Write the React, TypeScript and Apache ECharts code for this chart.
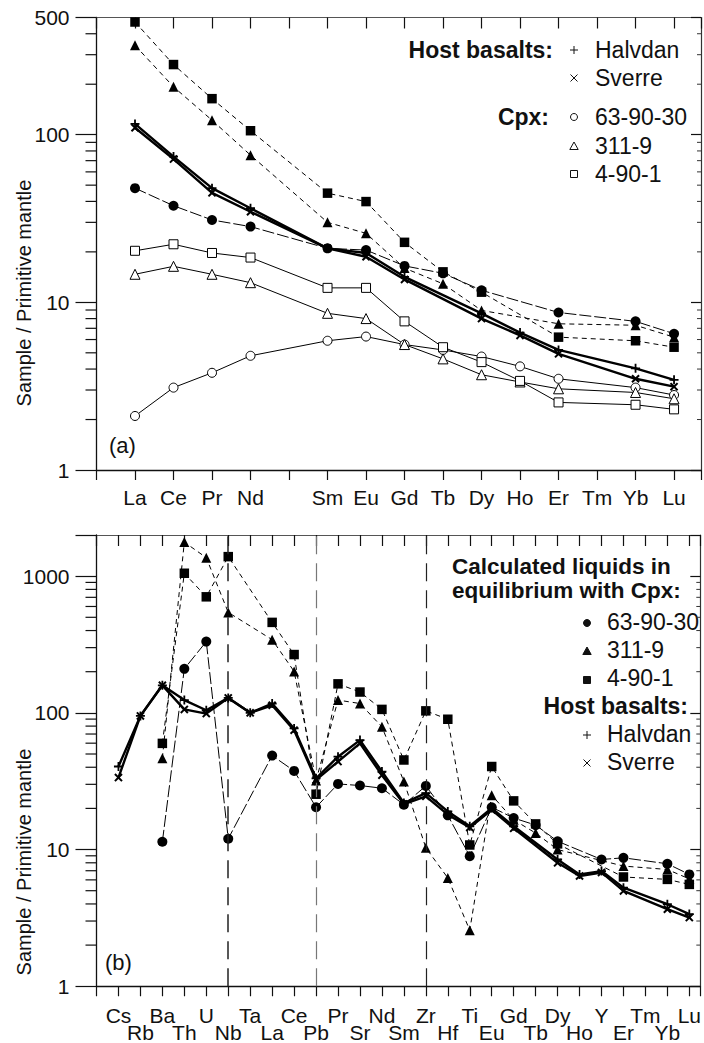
import React, { useEffect, useRef } from "react";
import * as echarts from "echarts";

// ---------- categories ----------
const TOP_LABELS = ["La", "Ce", "Pr", "Nd", "", "Sm", "Eu", "Gd", "Tb", "Dy", "Ho", "Er", "Tm", "Yb", "Lu"];
const BOTTOM_LABELS = ["Cs", "Rb", "Ba", "Th", "U", "Nb", "Ta", "La", "Ce", "Pb", "Pr", "Sr", "Nd", "Sm", "Zr", "Hf", "Ti", "Eu", "Gd", "Tb", "Dy", "Ho", "Y", "Er", "Tm", "Yb", "Lu"];
const DASHED_AT = ["Nb", "Pb", "Zr"];

// ---------- panel (a) values ----------
const halvdanA = [116, 74, 48, 36.4, null, 21, 19.7, 14.2, null, 8.6, 6.6, 5.2, null, 4.04, 3.45];
const sverreA = [110, 71.5, 45, 34.7, null, 21, 18.7, 13.7, null, 8.0, 6.35, 4.93, null, 3.5, 3.14];
const cpx63A = [2.1, 3.1, 3.8, 4.8, null, 5.9, 6.25, 5.6, 5.2, 4.75, 4.15, 3.5, null, 3.1, 2.8];
const cpx311A = [14.7, 16.4, 14.7, 13.1, null, 8.6, 8.0, 5.6, 4.6, 3.7, 3.35, 3.05, null, 2.9, 2.66];
const cpx4901A = [20.3, 22.2, 19.7, 18.5, null, 12.2, 12.2, 7.7, 5.4, 4.4, 3.4, 2.53, null, 2.45, 2.3];
const liq63A = [48, 37.7, 31, 28.3, null, 21, 20.5, 16.5, 14.9, 11.8, null, 8.7, null, 7.7, 6.5];
const liq311A = [341, 193, 122, 75.5, null, 30, 25.8, 16, 12.9, 8.95, null, 7.45, null, 7.3, 6.2];
const liq4901A = [470, 262, 164, 105.6, null, 44.8, 39.9, 22.8, 15.2, 11.5, null, 6.2, null, 5.9, 5.4];

// ---------- panel (b) values ----------
const halvdanB = [40.5, 95, 159, 124, 104.5, 128.6, 100, 117, 76.9, 33.2, 47.8, 63.2, 37.2, 21.9, 25.9, 19, 14.8, 20.1, 14.8, null, 8.46, 6.58, 6.96, 5.26, null, 3.98, 3.37];
const sverreB = [33.6, 95, 159, 106, 98.8, 128.6, 100, 113.6, 74.7, 32.3, 44, 59.8, 35, 21.5, 24.5, 18, 14.5, 19.5, 14.3, null, 8.0, 6.4, 6.8, 4.98, null, 3.66, 3.18];
const liq63B = [null, null, 11.4, 210, 332, 12.0, null, 48.7, 37.6, 20.4, 30.2, 29.4, 28.1, 21.3, 29.2, 17.8, 8.95, 20.4, 17, 15.1, 11.5, null, 8.46, 8.7, null, 7.87, 6.58];
const liq311B = [null, null, 46.5, 1774, 1365, 543, null, 343, 201, 32, 124, 117, 79, 31.5, 10.3, 6.2, 2.57, 25, 16.5, 13.2, 10, null, null, 7.57, null, 7.15, 6.1];
const liq4901B = [null, null, 59.8, 1050, 706, 1389, null, 459, 267, 25.4, 163, 142, 106, 45.2, 103.4, 89.8, 10.8, 40.5, 22.7, 15.4, 11, null, null, 6.3, null, 6.05, 5.56];

// ---------- axis ranges ----------
const TOP_X_MIN = -1;
const TOP_X_MAX = 14.7;
const BOT_X_MIN = -1;
const BOT_X_MAX = 26.5;
const TOP_Y_MAX = 500;
const BOT_Y_MAX = 2000;

const FONT = '"Liberation Sans", Arial, Helvetica, sans-serif';
const PLUS = "path://M4,0H6V4H10V6H6V10H4V6H0V4H4Z";

function pairs(vals: (number | null)[]) {
  return vals.map((v, i) => (v == null ? null : [i, v])).filter((d) => d !== null);
}

function minorValues(max: number) {
  const out: number[] = [];
  for (let d = 1; d < max; d *= 10) {
    for (let k = 2; k <= 9; k++) {
      const v = k * d;
      if (v < max) out.push(v);
    }
  }
  return out;
}

type Style = {
  symbol: string;
  size: number;
  fill: string;
  width: number;
  dash: any;
  rotate?: number;
  z: number;
};

function lineSeries(name: string, vals: (number | null)[], gi: number, st: Style, extra: any = {}) {
  return {
    type: "line",
    name,
    xAxisIndex: gi * 2,
    yAxisIndex: gi * 2,
    data: pairs(vals),
    symbol: st.symbol,
    symbolSize: st.size,
    symbolRotate: st.rotate || 0,
    showAllSymbol: true,
    z: st.z,
    lineStyle: { color: "#000", width: st.width, type: st.dash },
    itemStyle: { color: st.fill, borderColor: "#000", borderWidth: st.fill === "#fff" ? 1 : 0 },
    silent: true,
    ...extra,
  };
}

function minorSeries(gi: number, xMin: number, xMax: number, yMax: number) {
  return {
    type: "custom",
    xAxisIndex: gi * 2,
    yAxisIndex: gi * 2,
    clip: false,
    silent: true,
    z: 1,
    data: minorValues(yMax).map((v) => [xMin, v]),
    renderItem: (_p: any, api: any) => {
      const v = api.value(1);
      const pl = api.coord([xMin, v]);
      const pr = api.coord([xMax, v]);
      return {
        type: "group",
        children: [
          { type: "line", shape: { x1: pl[0] - 11, y1: pl[1], x2: pl[0], y2: pl[1] }, style: { stroke: "#111", lineWidth: 1.2 } },
          { type: "line", shape: { x1: pr[0] - 4, y1: pr[1], x2: pr[0], y2: pr[1] }, style: { stroke: "#333", lineWidth: 1 } },
        ],
      };
    },
  };
}

function xAxes(gi: number, min: number, max: number, formatter: any, margin: number, lineHeight: number) {
  return [
    {
      gridIndex: gi,
      type: "value",
      min,
      max,
      interval: 1,
      position: "bottom",
      axisLine: { show: true, onZero: false, lineStyle: { color: "#111", width: 1.3 } },
      axisTick: { show: true, inside: false, length: 10, lineStyle: { color: "#111", width: 1.2 } },
      axisLabel: { show: true, formatter, margin, fontSize: 21, lineHeight, color: "#111", fontFamily: FONT },
      splitLine: { show: false },
    },
    {
      gridIndex: gi,
      type: "value",
      min,
      max,
      interval: 1,
      position: "top",
      axisLine: { show: true, onZero: false, lineStyle: { color: "#555", width: 1.2 } },
      axisTick: { show: true, inside: true, length: 11, lineStyle: { color: "#111", width: 1.2 } },
      axisLabel: { show: false },
      splitLine: { show: false },
    },
  ];
}

function yAxes(gi: number, max: number) {
  const fmt = (v: number) => (Math.abs(v - BOT_Y_MAX) < 1e-6 ? "" : String(Math.round(v)));
  return [
    {
      gridIndex: gi,
      type: "log",
      logBase: 10,
      min: 1,
      max,
      position: "left",
      axisLine: { show: true, onZero: false, lineStyle: { color: "#111", width: 1.3 } },
      axisTick: { show: true, inside: false, length: 21, lineStyle: { color: "#111", width: 1.2 } },
      axisLabel: { show: true, formatter: fmt, margin: 27, fontSize: 21, color: "#111", fontFamily: FONT },
      splitLine: { show: false },
    },
    {
      gridIndex: gi,
      type: "log",
      logBase: 10,
      min: 1,
      max,
      position: "right",
      axisLine: { show: true, onZero: false, lineStyle: { color: "#333", width: 1.2 } },
      axisTick: { show: true, inside: true, length: 10, lineStyle: { color: "#111", width: 1.2 } },
      axisLabel: { show: false },
      splitLine: { show: false },
    },
  ];
}

function txt(text: string, x: number, y: number, size: number, align = "left", bold = false) {
  return {
    type: "text",
    x,
    y,
    silent: true,
    style: {
      text,
      fill: "#111",
      fontSize: size,
      fontWeight: bold ? "bold" : "normal",
      fontFamily: FONT,
      textAlign: align,
      textVerticalAlign: "middle",
    },
  };
}

function sym(kind: string, cx: number, cy: number) {
  const s = { stroke: "#111", lineWidth: 1, fill: "#fff" };
  const f = { fill: "#111", stroke: "#111", lineWidth: 1 };
  switch (kind) {
    case "plus":
      return { type: "group", children: [
        { type: "line", shape: { x1: cx - 4, y1: cy, x2: cx + 4, y2: cy }, style: { stroke: "#111", lineWidth: 1 } },
        { type: "line", shape: { x1: cx, y1: cy - 4, x2: cx, y2: cy + 4 }, style: { stroke: "#111", lineWidth: 1 } },
      ] };
    case "cross":
      return { type: "group", children: [
        { type: "line", shape: { x1: cx - 3.5, y1: cy - 3.5, x2: cx + 3.5, y2: cy + 3.5 }, style: { stroke: "#111", lineWidth: 1 } },
        { type: "line", shape: { x1: cx - 3.5, y1: cy + 3.5, x2: cx + 3.5, y2: cy - 3.5 }, style: { stroke: "#111", lineWidth: 1 } },
      ] };
    case "ocircle":
      return { type: "circle", shape: { cx, cy, r: 3.5 }, style: s };
    case "otri":
      return { type: "polygon", shape: { points: [[cx, cy - 4], [cx + 4.2, cy + 3.5], [cx - 4.2, cy + 3.5]] }, style: s };
    case "orect":
      return { type: "rect", shape: { x: cx - 3.5, y: cy - 3.5, width: 7, height: 7 }, style: s };
    case "fcircle":
      return { type: "circle", shape: { cx, cy, r: 3.5 }, style: f };
    case "ftri":
      return { type: "polygon", shape: { points: [[cx, cy - 4], [cx + 4.2, cy + 3.5], [cx - 4.2, cy + 3.5]] }, style: f };
    default:
      return { type: "rect", shape: { x: cx - 3.5, y: cy - 3.5, width: 7, height: 7 }, style: f };
  }
}

export default function App() {
  const ref = useRef<HTMLDivElement>(null);

  useEffect(() => {
    if (!ref.current) return;
    const chart = echarts.init(ref.current, null, { renderer: "svg" });

    const topFmt = (v: number) => (Number.isInteger(v) && v >= 0 && v < TOP_LABELS.length ? TOP_LABELS[v] : "");
    const botFmt = (v: number) => {
      if (!Number.isInteger(v) || v < 0 || v >= BOTTOM_LABELS.length) return "";
      return v % 2 === 0 ? BOTTOM_LABELS[v] : "\n" + BOTTOM_LABELS[v];
    };

    const hostH: Style = { symbol: PLUS, size: 9, fill: "#000", width: 2.4, dash: "solid", z: 6 };
    const hostS: Style = { symbol: PLUS, size: 10, fill: "#000", width: 2.4, dash: "solid", rotate: 45, z: 6 };
    const oC: Style = { symbol: "circle", size: 9, fill: "#fff", width: 1, dash: "solid", z: 3 };
    const oT: Style = { symbol: "triangle", size: 10, fill: "#fff", width: 1, dash: "solid", z: 3 };
    const oR: Style = { symbol: "rect", size: 9, fill: "#fff", width: 1, dash: "solid", z: 3 };
    const fC: Style = { symbol: "circle", size: 10, fill: "#000", width: 1, dash: [12, 3], z: 4 };
    const fT: Style = { symbol: "triangle", size: 10, fill: "#000", width: 1, dash: [5, 4], z: 4 };
    const fR: Style = { symbol: "rect", size: 9.5, fill: "#000", width: 1, dash: [5, 4], z: 4 };

    const dashedLines = DASHED_AT.map((n, k) => ({
      xAxis: BOTTOM_LABELS.indexOf(n),
      lineStyle: {
        color: k === 1 ? "#777" : "#222",
        width: k === 0 ? 1.5 : 1.2,
        type: [18, 9],
      },
    }));

    const option: any = {
      animation: false,
      backgroundColor: "#fff",
      grid: [
        { left: 96.5, top: 17.5, width: 607, height: 452.5, containLabel: false },
        { left: 96.5, top: 535, width: 607, height: 453.5, containLabel: false },
      ],
      xAxis: [
        ...xAxes(0, TOP_X_MIN, TOP_X_MAX, topFmt, 17, 21),
        ...xAxes(1, BOT_X_MIN, BOT_X_MAX, botFmt, 20, 17.5),
      ],
      yAxis: [...yAxes(0, TOP_Y_MAX), ...yAxes(1, BOT_Y_MAX)],
      series: [
        minorSeries(0, TOP_X_MIN, TOP_X_MAX, TOP_Y_MAX),
        minorSeries(1, BOT_X_MIN, BOT_X_MAX, BOT_Y_MAX),
        lineSeries("Cpx 63-90-30", cpx63A, 0, oC),
        lineSeries("Cpx 311-9", cpx311A, 0, oT),
        lineSeries("Cpx 4-90-1", cpx4901A, 0, oR),
        lineSeries("Liquid 63-90-30", liq63A, 0, fC),
        lineSeries("Liquid 311-9", liq311A, 0, fT),
        lineSeries("Liquid 4-90-1", liq4901A, 0, fR),
        lineSeries("Halvdan", halvdanA, 0, hostH),
        lineSeries("Sverre", sverreA, 0, hostS),
        lineSeries("Liquid 63-90-30 (b)", liq63B, 1, fC, {
          markLine: { silent: true, symbol: "none", label: { show: false }, data: dashedLines },
        }),
        lineSeries("Liquid 311-9 (b)", liq311B, 1, fT),
        lineSeries("Liquid 4-90-1 (b)", liq4901B, 1, fR),
        lineSeries("Halvdan (b)", halvdanB, 1, hostH),
        lineSeries("Sverre (b)", sverreB, 1, hostS),
      ],
      graphic: [
        { type: "text", x: 24, y: 293, rotation: Math.PI / 2, silent: true,
          style: { text: "Sample / Primitive mantle", fill: "#111", fontSize: 20, fontFamily: FONT, textAlign: "center", textVerticalAlign: "middle" } },
        { type: "text", x: 24, y: 862, rotation: Math.PI / 2, silent: true,
          style: { text: "Sample / Primitive mantle", fill: "#111", fontSize: 20, fontFamily: FONT, textAlign: "center", textVerticalAlign: "middle" } },
        txt("(a)", 109, 445, 22),
        txt("(b)", 105, 962, 22),
        // legend (a)
        txt("Host basalts:", 553, 50, 23, "right", true),
        sym("plus", 574, 50),
        txt("Halvdan", 595, 50, 23),
        sym("cross", 574, 78),
        txt("Sverre", 595, 78, 23),
        txt("Cpx:", 549, 117, 23, "right", true),
        sym("ocircle", 574, 117),
        txt("63-90-30", 595, 117, 23),
        sym("otri", 574, 146),
        txt("311-9", 595, 146, 23),
        sym("orect", 574, 174),
        txt("4-90-1", 595, 174, 23),
        // legend (b)
        txt("Calculated liquids in", 452, 566, 22.5, "left", true),
        txt("equilibrium with Cpx:", 452, 590, 22.5, "left", true),
        sym("fcircle", 587, 623),
        txt("63-90-30", 607, 622, 23),
        sym("ftri", 587, 651),
        txt("311-9", 607, 650, 23),
        sym("frect", 587, 680),
        txt("4-90-1", 607, 678, 23),
        txt("Host basalts:", 688, 706, 23, "right", true),
        sym("plus", 587, 735),
        txt("Halvdan", 607, 734, 23),
        sym("cross", 587, 763),
        txt("Sverre", 607, 762, 23),
      ],
    };

    chart.setOption(option);
    return () => chart.dispose();
  }, []);

  return (
    <div
      ref={ref}
      style={{ position: "absolute", left: 0, top: 0, width: 704, height: 1043, background: "#fff" }}
    />
  );
}
